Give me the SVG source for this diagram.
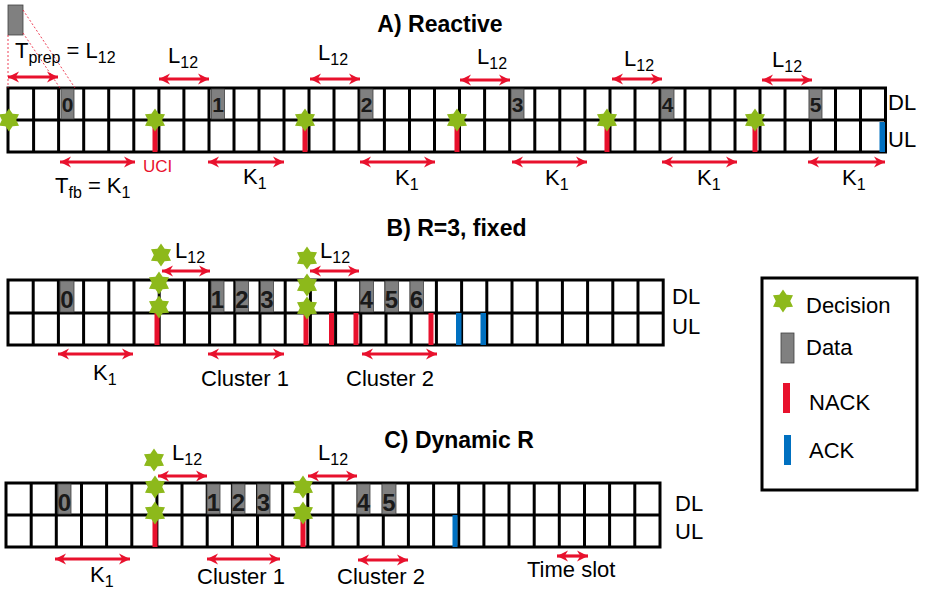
<svg xmlns="http://www.w3.org/2000/svg" xmlns:xlink="http://www.w3.org/1999/xlink" width="927" height="594" viewBox="0 0 927 594">
<defs>
<style>
.g{fill:none;stroke:#000;stroke-width:3}
.d{fill:#808080;stroke:#404040;stroke-width:0.8}
.dn{font-family:"Liberation Sans",Arial,sans-serif;font-weight:bold;fill:#1a1a1a;text-anchor:middle}
.t{font-family:"Liberation Sans",Arial,sans-serif;font-size:22px;fill:#000}
.h{font-family:"Liberation Sans",Arial,sans-serif;font-weight:bold;font-size:23px;text-anchor:middle;fill:#000}
.arr{stroke:#E8112D;stroke-width:3.2;fill:none;marker-start:url(#ah);marker-end:url(#ah)}
.nack{fill:#E8112D}
.ack{fill:#0070C0}
.star{fill:#8DB91B}
.dot{stroke:#E8112D;stroke-width:0.8;stroke-dasharray:2 2;fill:none}
</style>
<marker id="ah" viewBox="0 0 10 10" refX="10" refY="5" markerWidth="11" markerHeight="12" markerUnits="userSpaceOnUse" orient="auto-start-reverse">
<path d="M0,0 L10,5 L0,10 L3,5 Z" fill="#E8112D"/>
</marker>
<path id="star" class="star" d="M0,-11.5 L3.6,-6.2 L10,-5.75 L7.2,0 L10,5.75 L3.6,6.2 L0,11.5 L-3.6,6.2 L-10,5.75 L-7.2,0 L-10,-5.75 L-3.6,-6.2 Z"/>
</defs>
<rect width="927" height="594" fill="#fff"/>

<!-- Section A -->
<g id="sectionA">
<text class="h" x="440" y="32">A) Reactive</text>
<rect class="g" x="8" y="88" width="877.5" height="64"/>
<path class="g" d="M8 120H885.5"/>
<path class="g" d="M33.6 88V152M58.6 88V152M83.7 88V152M108.7 88V152M133.8 88V152M158.9 88V152M183.9 88V152M209 88V152M234 88V152M259 88V152M284 88V152M309 88V152M334 88V152M359 88V152M384.4 88V152M409.5 88V152M434.5 88V152M459.5 88V152M484.6 88V152M509.7 88V152M534.8 88V152M559.8 88V152M584.9 88V152M610 88V152M635 88V152M660 88V152M685 88V152M710 88V152M735 88V152M760 88V152M785 88V152M810.4 88V152M835.5 88V152M860.5 88V152"/>
<g id="dataA">
<rect class="d" x="61" y="89" width="13" height="30"/><text class="dn" font-size="21" x="67.5" y="112">0</text>
<rect class="d" x="211.5" y="89" width="13" height="30"/><text class="dn" font-size="21" x="218" y="112">1</text>
<rect class="d" x="360" y="89" width="13" height="30"/><text class="dn" font-size="21" x="366.5" y="112">2</text>
<rect class="d" x="511" y="89" width="13" height="30"/><text class="dn" font-size="21" x="517.5" y="112">3</text>
<rect class="d" x="661" y="89" width="13" height="30"/><text class="dn" font-size="21" x="667.5" y="112">4</text>
<rect class="d" x="809" y="89" width="13" height="30"/><text class="dn" font-size="21" x="815.5" y="112">5</text>
</g>
<rect class="nack" x="152.5" y="120" width="5" height="32"/>
<rect class="nack" x="302.5" y="120" width="5" height="32"/>
<rect class="nack" x="454.5" y="120" width="5" height="32"/>
<rect class="nack" x="604.5" y="120" width="5" height="32"/>
<rect class="nack" x="752.5" y="120" width="5" height="32"/>
<rect class="ack" x="879.5" y="122" width="5.5" height="30"/>
<use xlink:href="#star" x="9" y="120"/>
<use xlink:href="#star" x="155" y="120"/>
<use xlink:href="#star" x="305" y="120"/>
<use xlink:href="#star" x="457" y="120"/>
<use xlink:href="#star" x="607" y="120"/>
<use xlink:href="#star" x="755" y="120"/>
<text class="t" x="888" y="110">DL</text>
<text class="t" x="888" y="147">UL</text>
<rect class="d" x="8" y="5" width="15" height="30"/>
<path class="dot" d="M8 35V88M23 10L75 88M23 33L60 88"/>
<text class="t" x="15" y="58">T<tspan font-size="16" dy="5">prep</tspan><tspan dy="-5"> = L</tspan><tspan font-size="16" dy="5">12</tspan></text>
<text class="t" x="168" y="63">L<tspan font-size="16" dy="5">12</tspan></text>
<text class="t" x="318" y="60">L<tspan font-size="16" dy="5">12</tspan></text>
<text class="t" x="477" y="64">L<tspan font-size="16" dy="5">12</tspan></text>
<text class="t" x="624" y="66">L<tspan font-size="16" dy="5">12</tspan></text>
<text class="t" x="772" y="67">L<tspan font-size="16" dy="5">12</tspan></text>
<text x="143" y="172" font-family="Liberation Sans, Arial, sans-serif" font-size="17" fill="#E8112D">UCI</text>
<text class="t" x="55" y="193">T<tspan font-size="16" dy="5">fb</tspan><tspan dy="-5"> = K</tspan><tspan font-size="16" dy="5">1</tspan></text>
<text class="t" x="243" y="184">K<tspan font-size="16" dy="5">1</tspan></text>
<text class="t" x="395" y="185">K<tspan font-size="16" dy="5">1</tspan></text>
<text class="t" x="545" y="185">K<tspan font-size="16" dy="5">1</tspan></text>
<text class="t" x="697" y="185">K<tspan font-size="16" dy="5">1</tspan></text>
<text class="t" x="842" y="185">K<tspan font-size="16" dy="5">1</tspan></text>
</g>

<!-- Section B -->
<g id="sectionB">
<text class="h" x="456.5" y="236">B) R=3, fixed</text>
<rect class="g" x="8" y="280" width="655.2" height="65"/>
<path class="g" d="M8 313H663.2"/>
<path class="g" d="M33.2 280V345M58.4 280V345M83.6 280V345M108.8 280V345M134 280V345M159.2 280V345M184.4 280V345M209.6 280V345M234.8 280V345M260 280V345M285.2 280V345M310.4 280V345M335.6 280V345M360.8 280V345M386 280V345M411.2 280V345M436.4 280V345M461.6 280V345M486.8 280V345M512 280V345M537.2 280V345M562.4 280V345M587.6 280V345M612.8 280V345M638 280V345"/>
<g id="dataB">
<rect class="d" x="60" y="281" width="14" height="31"/><text class="dn" font-size="24" x="67" y="308">0</text>
<rect class="d" x="211" y="281" width="13" height="31"/><text class="dn" font-size="24" x="217.5" y="308">1</text>
<rect class="d" x="235.5" y="281" width="13" height="31"/><text class="dn" font-size="24" x="242" y="308">2</text>
<rect class="d" x="260.5" y="281" width="13" height="31"/><text class="dn" font-size="24" x="267" y="308">3</text>
<rect class="d" x="360" y="281" width="13.5" height="31"/><text class="dn" font-size="24" x="366.5" y="308">4</text>
<rect class="d" x="385" y="281" width="13.5" height="31"/><text class="dn" font-size="24" x="391.5" y="308">5</text>
<rect class="d" x="410" y="281" width="13.5" height="31"/><text class="dn" font-size="24" x="416.5" y="308">6</text>
</g>
<rect class="nack" x="154.5" y="313" width="5" height="32"/>
<rect class="nack" x="303.5" y="313" width="5" height="32"/>
<rect class="nack" x="329" y="313" width="5" height="32"/>
<rect class="nack" x="353.5" y="313" width="5" height="32"/>
<rect class="nack" x="428.5" y="313" width="5" height="32"/>
<rect class="ack" x="456" y="313" width="5.5" height="32"/>
<rect class="ack" x="480.5" y="313" width="5.5" height="32"/>
<use xlink:href="#star" x="161" y="255"/>
<use xlink:href="#star" x="159" y="283"/>
<use xlink:href="#star" x="159" y="307"/>
<use xlink:href="#star" x="307" y="258"/>
<use xlink:href="#star" x="307" y="285"/>
<use xlink:href="#star" x="307" y="308"/>
<text class="t" x="672" y="304">DL</text>
<text class="t" x="672" y="334">UL</text>
<text class="t" x="175" y="258">L<tspan font-size="16" dy="5">12</tspan></text>
<text class="t" x="320" y="258">L<tspan font-size="16" dy="5">12</tspan></text>
<text class="t" x="93" y="380">K<tspan font-size="16" dy="5">1</tspan></text>
<text class="t" x="201" y="386" font-size="22.5">Cluster 1</text>
<text class="t" x="346" y="386" font-size="22.5">Cluster 2</text>
</g>

<!-- Section C -->
<g id="sectionC">
<text class="h" x="459" y="448">C) Dynamic R</text>
<rect class="g" x="6" y="483" width="654" height="64"/>
<path class="g" d="M6 515H660"/>
<path class="g" d="M31.2 483V547M56.3 483V547M81.5 483V547M106.6 483V547M131.8 483V547M156.9 483V547M182 483V547M207.2 483V547M232.4 483V547M257.5 483V547M282.7 483V547M307.8 483V547M333 483V547M358.1 483V547M383.3 483V547M408.4 483V547M433.6 483V547M458.7 483V547M483.9 483V547M509 483V547M534.2 483V547M559.3 483V547M584.5 483V547M609.6 483V547M634.8 483V547"/>
<g id="dataC">
<rect class="d" x="58" y="484" width="13" height="30"/><text class="dn" font-size="24" x="64.5" y="511">0</text>
<rect class="d" x="207" y="484" width="13" height="30"/><text class="dn" font-size="24" x="213.5" y="511">1</text>
<rect class="d" x="232" y="484" width="13" height="30"/><text class="dn" font-size="24" x="238.5" y="511">2</text>
<rect class="d" x="257" y="484" width="13" height="30"/><text class="dn" font-size="24" x="263.5" y="511">3</text>
<rect class="d" x="357" y="484" width="13" height="30"/><text class="dn" font-size="24" x="363.5" y="511">4</text>
<rect class="d" x="382" y="484" width="14" height="30"/><text class="dn" font-size="24" x="389" y="511">5</text>
</g>
<rect class="nack" x="152.5" y="515" width="5" height="32"/>
<rect class="nack" x="300.5" y="515" width="5" height="32"/>
<rect class="ack" x="452.5" y="515" width="5" height="32"/>
<use xlink:href="#star" x="154" y="460"/>
<use xlink:href="#star" x="155" y="487"/>
<use xlink:href="#star" x="155" y="513"/>
<use xlink:href="#star" x="303" y="487"/>
<use xlink:href="#star" x="303" y="513"/>
<text class="t" x="675" y="511">DL</text>
<text class="t" x="675" y="539">UL</text>
<text class="t" x="172" y="460">L<tspan font-size="16" dy="5">12</tspan></text>
<text class="t" x="318" y="460">L<tspan font-size="16" dy="5">12</tspan></text>
<text class="t" x="90" y="582">K<tspan font-size="16" dy="5">1</tspan></text>
<text class="t" x="197" y="584" font-size="22.5">Cluster 1</text>
<text class="t" x="337" y="584" font-size="22.5">Cluster 2</text>
<text class="t" x="527" y="577" font-size="19.5">Time slot</text>
</g>

<!-- Connectors (double arrows) -->
<g id="connectors">
<path class="arr" d="M8 77H58"/>
<path class="arr" d="M159 79H209"/>
<path class="arr" d="M310 79H360"/>
<path class="arr" d="M460 80H510"/>
<path class="arr" d="M612 79H662"/>
<path class="arr" d="M762 80H812"/>
<path class="arr" d="M60 162H135"/>
<path class="arr" d="M208 162H284"/>
<path class="arr" d="M360 162H435"/>
<path class="arr" d="M512 162H587"/>
<path class="arr" d="M662 162H737"/>
<path class="arr" d="M808 162H885"/>
<path class="arr" d="M162 271H210"/>
<path class="arr" d="M310 271H359"/>
<path class="arr" d="M58 354H133"/>
<path class="arr" d="M208 354H284"/>
<path class="arr" d="M362 354H437"/>
<path class="arr" d="M158 476H207"/>
<path class="arr" d="M308 476H357"/>
<path class="arr" d="M55 559H130"/>
<path class="arr" d="M207 559H280"/>
<path class="arr" d="M358 560H408"/>
<path class="arr" d="M557 556H588"/>
</g>

<!-- Legend -->
<g id="legend">
<rect class="g" x="762" y="278" width="155" height="212"/>
<use xlink:href="#star" x="783" y="301"/>
<text class="t" x="806" y="313" font-size="22.5">Decision</text>
<rect class="d" x="781" y="333" width="13" height="30"/>
<text class="t" x="806" y="355" font-size="22.5">Data</text>
<rect class="nack" x="783" y="383" width="7" height="30"/>
<text class="t" x="809" y="410" font-size="22.5">NACK</text>
<rect class="ack" x="784" y="435" width="7" height="30"/>
<text class="t" x="809" y="458" font-size="22.5">ACK</text>
</g>
</svg>
